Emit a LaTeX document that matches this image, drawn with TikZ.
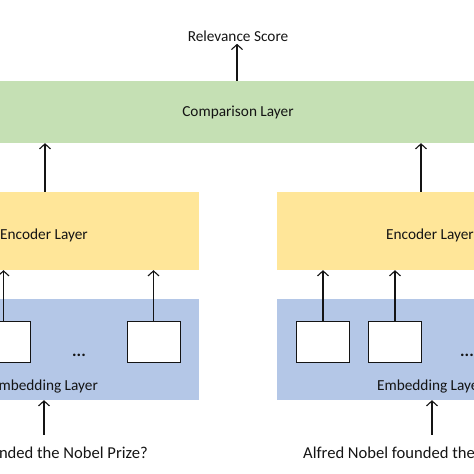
\documentclass[tikz,border=0pt]{standalone}
\usepackage{fontspec}
\setmainfont{Carlito}
\usetikzlibrary{positioning, arrows.meta}
\definecolor{cmpgreen}{RGB}{197,224,180}
\definecolor{encyellow}{RGB}{255,230,153}
\definecolor{embblue}{RGB}{180,199,231}
\definecolor{txt}{RGB}{20,20,20}
\tikzset{
	layer/.style={rectangle, inner sep=0pt, minimum width=310pt, text=txt, font=\fontsize{15.3}{18}\selectfont},
	tok/.style={rectangle, draw=txt, line width=1pt, fill=white, minimum width=53pt, minimum height=41pt, inner sep=0pt},
	lbl/.style={text=txt, inner sep=0pt, font=\fontsize{15.3}{18}\selectfont},
	sent/.style={text=txt, inner sep=0pt, font=\fontsize{16.6}{20}\selectfont},
	up/.style={draw=txt, line width=1.1pt, -{Straight Barb[length=5pt,width=11pt]}}
}

\begin{document}
\begin{tikzpicture}[x=1pt, y=1pt]
	\useasboundingbox (0,0) rectangle (474,474);
	\clip (0,0) rectangle (474,474);

	\node[layer, fill=cmpgreen, minimum width=698pt, minimum height=62pt] (cmp) at (238,362) {Comparison Layer};
	\node[lbl, above=39pt of cmp] (score) {Relevance Score};

	\node[layer, fill=encyellow, minimum height=78pt] (encl) at (44,243) {};
	\node[layer, fill=encyellow, minimum height=78pt] (encr) at (432,243) {};
	\node[lbl] (encltxt) at (44,239) {Encoder Layer};
	\node[lbl] (encrtxt) at (430,239) {Encoder Layer};

	\node[layer, fill=embblue, minimum height=101pt] (embl) at (44,124.5) {};
	\node[layer, fill=embblue, minimum height=101pt] (embr) at (432,124.5) {};
	\node[lbl] (embltxt) at (44.5,87) {Embedding Layer};
	\node[lbl] (embrtxt) at (430.5,87) {Embedding Layer};

	\node[tok] (l1) at (3.5,131.5) {};
	\node[tok] (l2) at (153.5,131.5) {};
	\node[tok] (r1) at (323,131.5) {};
	\node[tok] (r2) at (395,131.5) {};
	\node[lbl, font=\fontsize{17}{20}\bfseries] (ldots) at (79,119) {...};
	\node[lbl, font=\fontsize{17}{20}\bfseries] (rdots) at (467,119) {...};

	\node[sent, anchor=base east] (qry) at (148,16) {Who founded the Nobel Prize?};
	\node[sent, anchor=base west] (doc) at (303,16) {Alfred Nobel founded the Nobel Prize.};

	\draw[up] (cmp.north -| 237,0) -- ([yshift=-2pt]score.south -| 237,0);
	\draw[up] ([xshift=1pt]encl.north) -- ([xshift=1pt]encl.north |- cmp.south);
	\draw[up] ([xshift=-11pt]encr.north) -- ([xshift=-11pt]encr.north |- cmp.south);
	\foreach \t/\e in {l1/encl, l2/encl, r1/encr, r2/encr}
		\draw[up] (\t.north) -- (\t.north |- \e.south);
	\draw[up] (44,39) -- (44,0 |- embl.south);
	\draw[up] (432,39) -- (432,0 |- embr.south);
\end{tikzpicture}
\end{document}
